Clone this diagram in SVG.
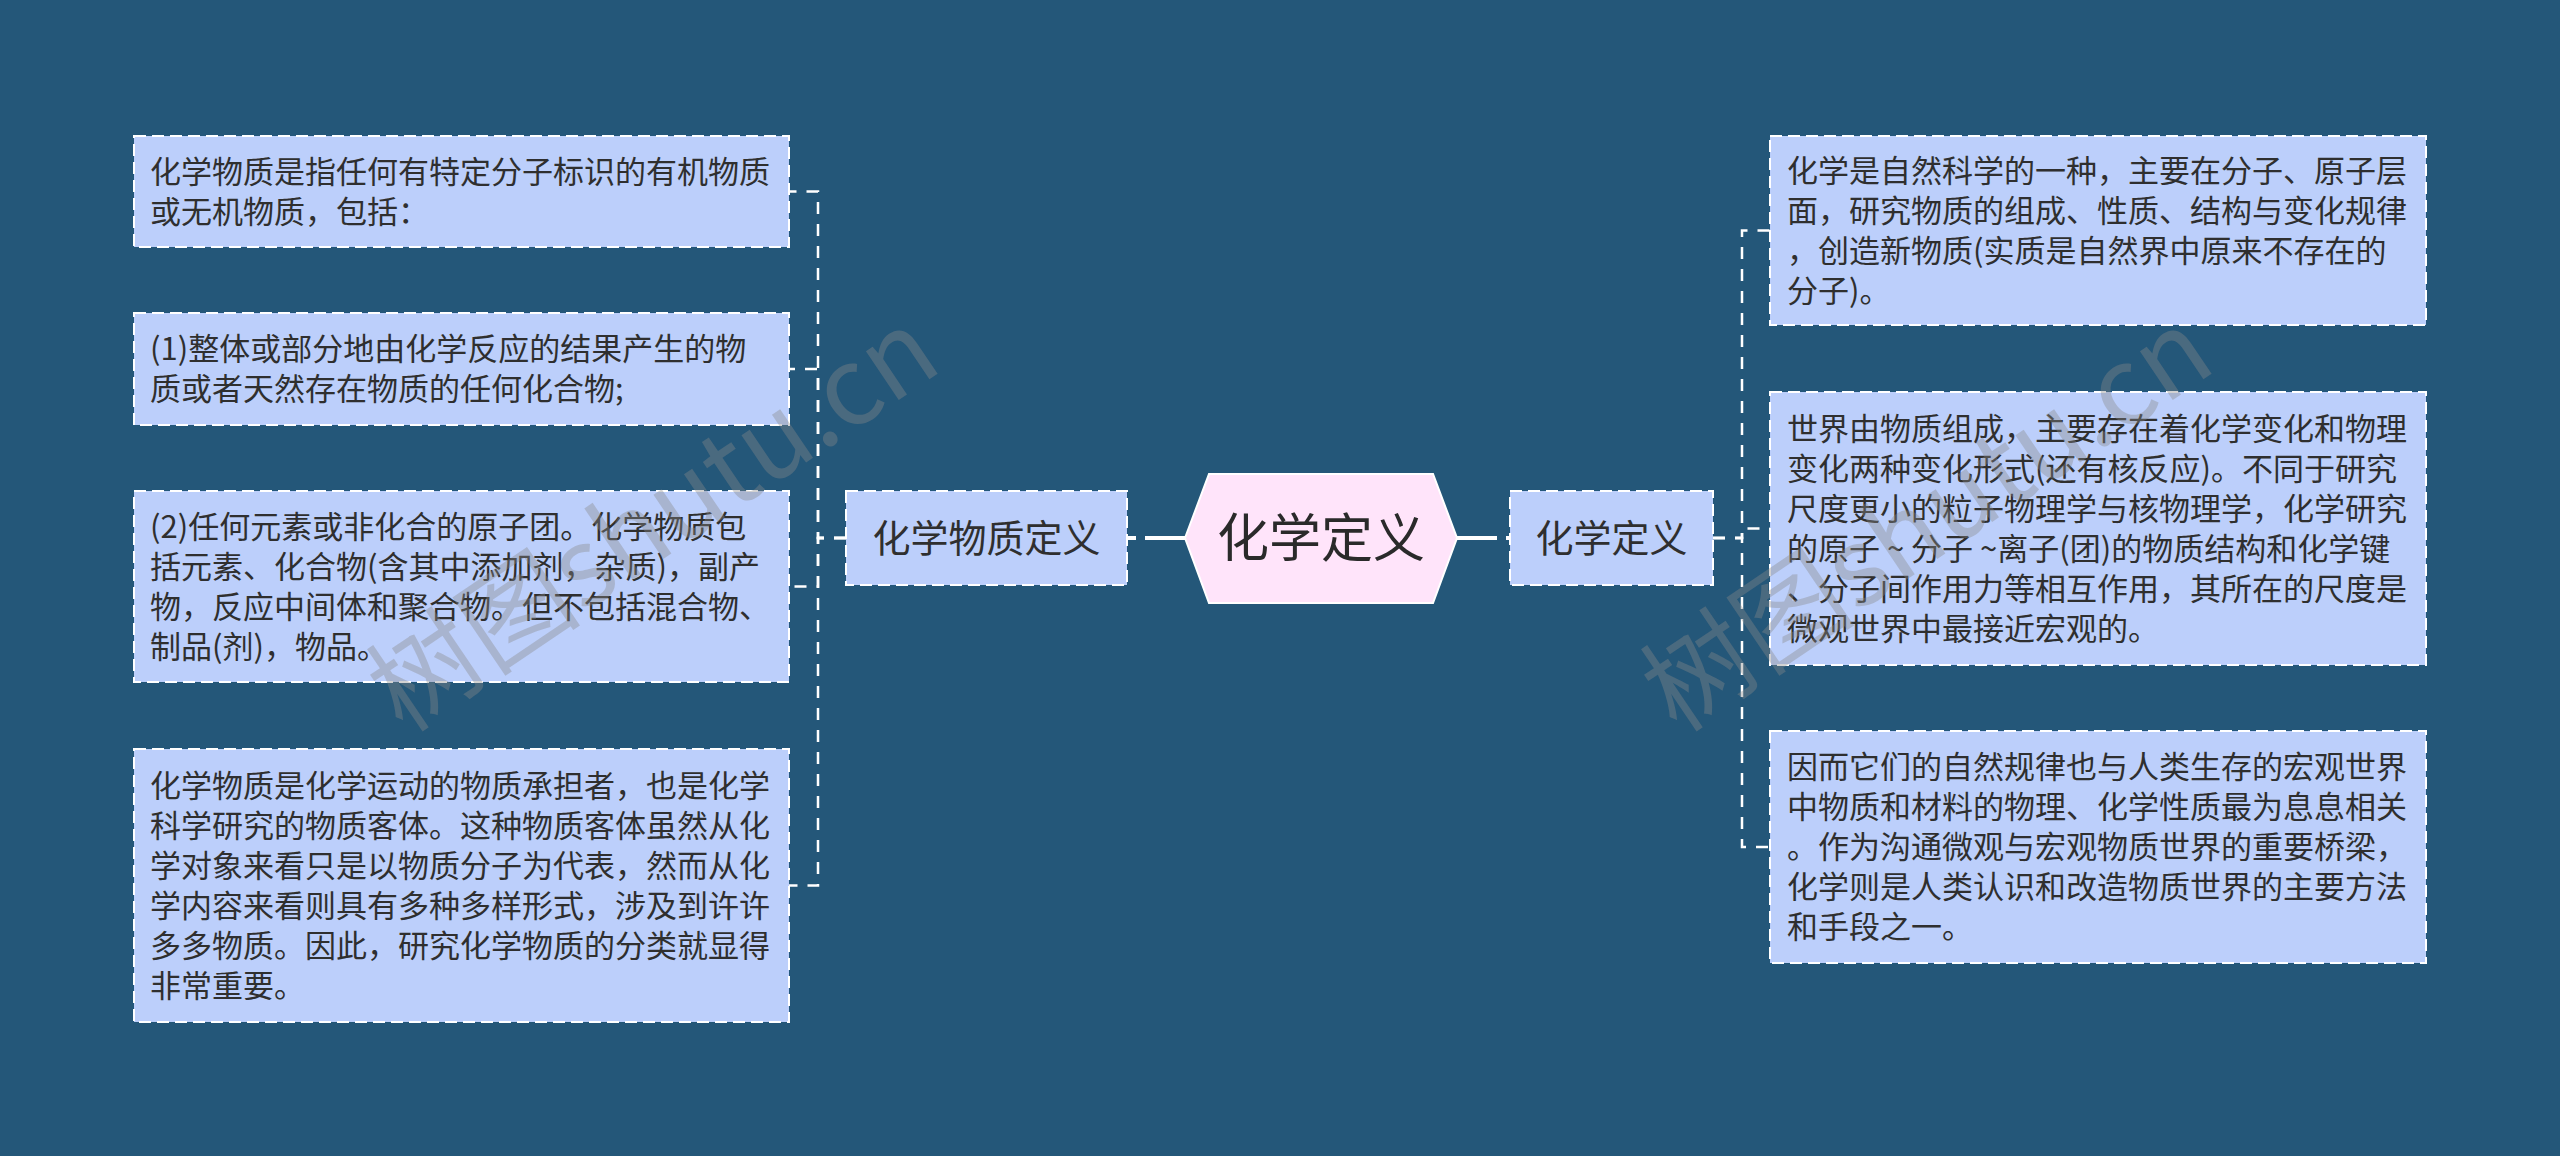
<svg xmlns="http://www.w3.org/2000/svg" width="2560" height="1156" viewBox="0 0 2560 1156">
<style>
.bg{fill:#245779}
.box{fill:#bccffb;stroke:#ffffff;stroke-width:2;stroke-dasharray:12 6}
.t{font-family:"Noto Sans CJK SC","Noto Sans",sans-serif;font-size:31px;fill:#2f2f2f}
.t1{font-family:"Noto Sans CJK SC","Noto Sans",sans-serif;font-size:38px;fill:#2f2f2f;text-anchor:middle}
.t0{font-family:"Noto Sans CJK SC","Noto Sans",sans-serif;font-size:52px;fill:#2a2a2a;text-anchor:middle}
.c1{fill:none;stroke:#ffffff;stroke-width:4;stroke-dasharray:40 9}
.c2{fill:none;stroke:#ffffff;stroke-width:2.5;stroke-dasharray:12 10}
.wm{font-family:"Noto Sans CJK SC","Liberation Sans",sans-serif;font-size:108px;fill:#8a8a8a;fill-opacity:0.38;text-anchor:middle}
</style>
<rect class="bg" x="0" y="0" width="2560" height="1156"/>
<g id="connectors">
<path class="c1" d="M1185 538 H1127"/>
<path class="c1" d="M1457 538 H1510"/>
<path class="c2" d="M846 538 H818 V191.5 H789"/>
<path class="c2" d="M846 538 H818 V369 H789"/>
<path class="c2" d="M846 538 H818 V586.5 H789"/>
<path class="c2" d="M846 538 H818 V885.5 H789"/>
<path class="c2" d="M1713 538 H1742 V230.5 H1770"/>
<path class="c2" d="M1713 538 H1742 V528.5 H1770"/>
<path class="c2" d="M1713 538 H1742 V847 H1770"/>
</g>
<g id="root">
<polygon points="1185,538 1209,474 1433,474 1457,538 1433,603 1209,603" fill="#ffe4fa" stroke="#ffffff" stroke-width="2"/>
<text class="t0" x="1321" y="557">化学定义</text>
</g>
<g id="n-left">
<rect class="box" x="846" y="491" width="281" height="94"/>
<text class="t1" x="986.5" y="552">化学物质定义</text>
</g>
<g id="n-right">
<rect class="box" x="1510" y="491" width="203" height="94"/>
<text class="t1" x="1611.5" y="552">化学定义</text>
</g>
<g id="l1">
<rect class="box" x="134" y="136" width="655" height="111"/>
<text class="t"><tspan x="150" y="182.5">化学物质是指任何有特定分子标识的有机物质</tspan><tspan x="150" y="222.5">或无机物质，包括：</tspan></text>
</g>
<g id="l2">
<rect class="box" x="134" y="313" width="655" height="112"/>
<text class="t"><tspan x="150" y="360">(1)整体或部分地由化学反应的结果产生的物</tspan><tspan x="150" y="400">质或者天然存在物质的任何化合物;</tspan></text>
</g>
<g id="l3">
<rect class="box" x="134" y="491" width="655" height="191"/>
<text class="t"><tspan x="150" y="537.5">(2)任何元素或非化合的原子团。化学物质包</tspan><tspan x="150" y="577.5">括元素、化合物(含其中添加剂，杂质)，副产</tspan><tspan x="150" y="617.5">物，反应中间体和聚合物。但不包括混合物、</tspan><tspan x="150" y="657.5">制品(剂)，物品。</tspan></text>
</g>
<g id="l4">
<rect class="box" x="134" y="749" width="655" height="273"/>
<text class="t"><tspan x="150" y="796.5">化学物质是化学运动的物质承担者，也是化学</tspan><tspan x="150" y="836.5">科学研究的物质客体。这种物质客体虽然从化</tspan><tspan x="150" y="876.5">学对象来看只是以物质分子为代表，然而从化</tspan><tspan x="150" y="916.5">学内容来看则具有多种多样形式，涉及到许许</tspan><tspan x="150" y="956.5">多多物质。因此，研究化学物质的分类就显得</tspan><tspan x="150" y="996.5">非常重要。</tspan></text>
</g>
<g id="r1">
<rect class="box" x="1770" y="136" width="656" height="189"/>
<text class="t"><tspan x="1787" y="181.5">化学是自然科学的一种，主要在分子、原子层</tspan><tspan x="1787" y="221.5">面，研究物质的组成、性质、结构与变化规律</tspan><tspan x="1787" y="261.5">，创造新物质(实质是自然界中原来不存在的</tspan><tspan x="1787" y="301.5">分子)。</tspan></text>
</g>
<g id="r2">
<rect class="box" x="1770" y="392" width="656" height="273"/>
<text class="t"><tspan x="1787" y="439.5">世界由物质组成，主要存在着化学变化和物理</tspan><tspan x="1787" y="479.5">变化两种变化形式(还有核反应)。不同于研究</tspan><tspan x="1787" y="519.5">尺度更小的粒子物理学与核物理学，化学研究</tspan><tspan x="1787" y="559.5">的原子 ~ 分子 ~离子(团)的物质结构和化学键</tspan><tspan x="1787" y="599.5">、分子间作用力等相互作用，其所在的尺度是</tspan><tspan x="1787" y="639.5">微观世界中最接近宏观的。</tspan></text>
</g>
<g id="r3">
<rect class="box" x="1770" y="731" width="656" height="232"/>
<text class="t"><tspan x="1787" y="778">因而它们的自然规律也与人类生存的宏观世界</tspan><tspan x="1787" y="818">中物质和材料的物理、化学性质最为息息相关</tspan><tspan x="1787" y="858">。作为沟通微观与宏观物质世界的重要桥梁，</tspan><tspan x="1787" y="898">化学则是人类认识和改造物质世界的主要方法</tspan><tspan x="1787" y="938">和手段之一。</tspan></text>
</g>
<g id="watermark">
<text class="wm" transform="translate(653 520) rotate(-34)" y="38">树图shutu.cn</text>
<text class="wm" transform="translate(1927 520) rotate(-34)" y="38">树图shutu.cn</text>
</g>
</svg>
